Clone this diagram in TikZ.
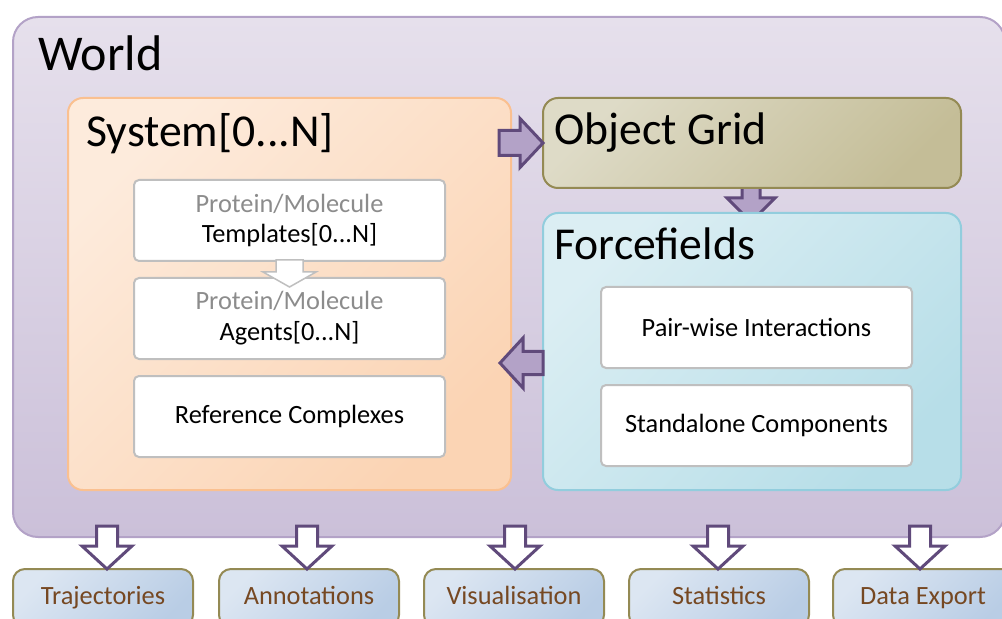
\documentclass[tikz,border=0pt]{standalone}
\usepackage{fontspec}
\setmainfont{Carlito}
\usetikzlibrary{
  calc  % Calculations $...$
}
\definecolor{worldtop}{RGB}{230,224,236}
\definecolor{worldbot}{RGB}{203,192,217}
\definecolor{worldline}{RGB}{179,162,199}
\definecolor{systop}{RGB}{253,235,220}
\definecolor{sysbot}{RGB}{251,212,180}
\definecolor{sysline}{RGB}{250,192,144}
\definecolor{gridtop}{RGB}{222,219,199}
\definecolor{gridbot}{RGB}{196,189,151}
\definecolor{gridline}{RGB}{148,138,84}
\definecolor{fftop}{RGB}{219,238,243}
\definecolor{ffbot}{RGB}{183,222,232}
\definecolor{ffline}{RGB}{146,205,221}
\definecolor{itemline}{RGB}{191,191,191}
\definecolor{itemgray}{RGB}{140,140,140}
\definecolor{outtop}{RGB}{220,230,242}
\definecolor{outbot}{RGB}{185,205,229}
\definecolor{outtext}{RGB}{118,72,34}
\definecolor{arrowfill}{RGB}{179,162,199}
\definecolor{arrowline}{RGB}{96,74,123}
\newcommand{\grey}[1]{\textcolor{itemgray}{#1}}
\tikzset{
  box/.style={
    draw,
    rectangle,
    anchor=north west,
    inner sep=0mm,
    line width=0.4mm
  },
  world box/.style={
    box,
    draw=worldline,
    top color=worldtop,
    bottom color=worldbot,
    rounded corners=5mm,
    minimum width=198.4mm,
    minimum height=104mm
  },
  group box/.style={
    box,
    rounded corners=3mm,
    shading angle=45
  },
  item/.style={
    box,
    draw=itemline,
    fill=white,
    rounded corners=1mm,
    minimum width=62.2mm,
    minimum height=16.2mm,
    align=center,
    font=\fontsize{15}{17.6}\selectfont
  },
  output/.style={
    box,
    draw=gridline,
    top color=outtop,
    bottom color=outbot,
    shading angle=45,
    rounded corners=2.4mm,
    minimum width=36mm,
    minimum height=11.6mm,
    text height=10pt,
    text depth=3pt,
    text=outtext,
    font=\fontsize{15}{18}\selectfont
  },
  title/.style={
    anchor=base west,
    inner sep=0mm,
    font=\fontsize{26}{30}\selectfont
  },
  % length/shaft width/head width/head length, in pixels
  pics/block arrow/.style n args={4}{
    code={
      \path[pic actions] (0,-#2/2) -- (#1-#4,-#2/2) -- (#1-#4,-#3/2) -- (#1,0)
        -- (#1-#4,#3/2) -- (#1-#4,#2/2) -- (0,#2/2) -- cycle;
    }
  },
  link arrow/.style={
    draw=arrowline,
    fill=arrowfill,
    line width=0.6mm
  },
  out arrow/.style={
    draw=arrowline,
    fill=white,
    line width=0.6mm,
    rotate=-90
  },
  step arrow/.style={
    draw=itemline,
    fill=white,
    line width=0.3mm,
    rotate=-90
  }
}

\begin{document}
\begin{tikzpicture}[x=0.2mm,y=-0.2mm]
\clip (0,0) rectangle (1002,619);
% world and its two groups
\node[world box] (world) at (12,16) {};
\node[title,font=\fontsize{28.5}{32}\selectfont] (worldtitle) at (38,71) {World};
\node[group box,draw=sysline,top color=systop,bottom color=sysbot,shading angle=45,
      minimum width=88.6mm,minimum height=78.4mm] (system) at (67,97) {};
\node[title] (systemtitle) at (86,147) {System[0...N]};
\node[item] (templates) at (133,179) {\grey{Protein/Molecule}\\Templates[0...N]};
\node[item] (agents) at (133,277) {\grey{Protein/Molecule}\\Agents[0...N]};
\node[item] (complexes) at (133,375) {Reference Complexes};
\pic[step arrow] (tmpl2agent) at (templates.south |- 0,260) {block arrow={27}{27}{53}{15}};
\pic[link arrow,rotate=-90] (grid2ff) at (751,183) {block arrow={39}{18}{48}{24}};
\node[group box,draw=gridline,top color=gridtop,bottom color=gridbot,shading angle=45,
      minimum width=83.6mm,minimum height=18mm] (grid) at (542,97) {};
\node[title] (gridtitle) at (554,145) {Object Grid};
\node[group box,draw=ffline,top color=fftop,bottom color=ffbot,shading angle=45,
      minimum width=83.6mm,minimum height=55.4mm] (ff) at (542,212) {};
\node[title] (fftitle) at (554,260) {Forcefields};
\node[item] (pairwise) at (600,286) {Pair-wise Interactions};
\node[item] (standalone) at (600,384) {Standalone Components};
\pic[link arrow] (sys2grid) at (499,143) {block arrow={44}{25}{49}{23}};
\pic[link arrow,rotate=180] (ff2sys) at (543,363) {block arrow={43}{23}{50}{23}};
% outputs
\node[output] (traj) at (12,568) {Trajectories};
\node[output] (annot) at (218,568) {Annotations};
\node[output] (vis) at (423,568) {Visualisation};
\node[output] (stats) at (628,568) {Statistics};
\node[output] (export) at (832,568) {Data Export};
\foreach \n/\x in {traj/107,annot/307,vis/515,stats/718,export/920}
  \pic[out arrow] (to\n) at (\x,526) {block arrow={43}{21}{50}{23}};
\end{tikzpicture}
\end{document}
